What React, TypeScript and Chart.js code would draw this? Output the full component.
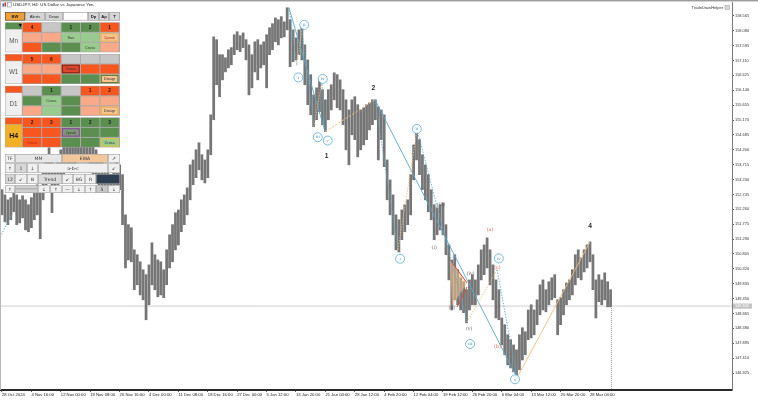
import React, { useEffect, useRef } from 'react';
import { Chart, registerables } from 'chart.js';

Chart.register(...registerables);

// ---------- data ----------
const timeLabels = ['28 Oct 2024', '4 Nov 16:00', '12 Nov 00:00', '19 Nov 08:00', '26 Nov 16:00', '4 Dec 00:00', '11 Dec 08:00', '18 Dec 16:00', '27 Dec 00:00', '5 Jan 12:00', '13 Jan 20:00', '21 Jan 04:00', '28 Jan 12:00', '4 Feb 20:00', '12 Feb 04:00', '19 Feb 12:00', '26 Feb 20:00', '6 Mar 04:00', '13 Mar 12:00', '20 Mar 20:00', '28 Mar 04:00'];
const timeSlots = [0, 10, 20, 30, 40, 50, 60, 70, 80, 90, 100, 110, 120, 130, 140, 150, 160, 170, 180, 190, 200];

const priceTicks = [146.925, 147.41, 147.895, 148.38, 148.865, 149.35, 149.835, 150.32, 150.805, 151.29, 151.775, 152.26, 152.745, 153.23, 153.715, 154.2, 154.685, 155.17, 155.655, 156.14, 156.625, 157.11, 157.595, 158.08, 158.565, 159.05];

const highs = [
  152.90, 152.73, 152.57, 152.64, 152.83, 152.73, 152.57, 152.70, 152.57, 152.41,
  152.64, 152.80, 153.06, 152.90, 153.55, 154.04, 154.27, 153.87, 153.71, 153.87,
  154.20, 154.36, 154.53, 154.69, 154.59, 154.46, 154.69, 154.85, 154.92, 154.79,
  154.53, 154.36, 154.20, 154.04, 153.87, 153.71, 153.55, 153.39, 153.55, 153.87,
  153.71, 153.39, 152.08, 151.76, 151.66, 150.94, 150.78, 150.55, 150.29, 150.13,
  150.45, 151.17, 150.78, 150.61, 150.55, 150.29, 150.94, 151.43, 151.76, 152.15,
  152.24, 152.57, 152.73, 152.96, 153.71, 153.87, 154.20, 154.43, 154.04, 153.87,
  154.20, 155.34, 157.88, 157.79, 157.30, 157.30, 157.20, 157.46, 157.53, 157.95,
  158.05, 157.92, 158.01, 157.79, 157.62, 157.30, 157.72, 157.79, 157.62, 157.72,
  157.95, 158.18, 158.31, 158.50, 158.44, 158.54, 158.37, 158.83, 158.44, 158.11,
  157.85, 158.11, 158.28, 157.62, 157.13, 156.65, 155.99, 156.22, 156.48, 156.16,
  155.83, 156.16, 156.32, 156.71, 156.65, 156.48, 156.16, 155.83, 155.50, 155.83,
  155.93, 155.67, 155.50, 155.57, 155.67, 155.73, 155.83, 155.83, 155.60, 155.50,
  155.34, 153.87, 153.22, 152.73, 152.08, 151.92, 152.24, 152.41, 152.57, 153.39,
  154.36, 154.75, 154.53, 154.04, 153.71, 153.39, 152.90, 152.41, 152.31, 152.41,
  152.47, 151.76, 151.10, 150.61, 150.78, 150.29, 150.03, 149.90, 149.64, 149.96,
  150.13, 149.96, 150.45, 150.94, 151.10, 151.33, 150.94, 150.45, 149.96, 149.64,
  148.72, 148.50, 148.17, 148.01, 147.84, 147.68, 148.17, 148.40, 148.27, 148.98,
  149.15, 148.98, 149.31, 149.80, 149.96, 149.64, 149.90, 150.03, 150.13, 149.31,
  149.38, 149.64, 149.86, 149.96, 150.29, 150.78, 150.94, 150.68, 150.94, 151.10,
  151.20, 150.78, 149.96, 150.13, 149.96, 150.19, 149.90, 149.64
];

const lows = [
  152.08, 151.85, 151.76, 151.92, 152.18, 151.76, 151.82, 151.98, 151.59, 151.53,
  151.66, 151.92, 152.08, 151.30, 152.57, 153.06, 153.29, 152.15, 152.90, 153.06,
  153.22, 153.39, 153.55, 153.71, 153.55, 153.48, 153.87, 153.94, 154.04, 153.81,
  153.55, 153.39, 153.22, 153.06, 152.96, 152.90, 152.90, 152.83, 152.90, 153.06,
  152.90, 151.76, 150.35, 150.61, 150.55, 149.64, 149.80, 149.47, 149.31, 148.66,
  149.15, 149.80, 149.64, 149.41, 149.47, 149.38, 149.80, 150.35, 150.55, 150.94,
  151.10, 151.53, 151.76, 152.08, 152.57, 153.06, 153.29, 153.55, 153.22, 153.12,
  153.29, 154.04, 155.18, 156.32, 155.93, 156.48, 156.74, 156.87, 156.97, 157.30,
  157.46, 157.40, 157.53, 157.13, 155.99, 156.22, 156.74, 156.48, 156.87, 156.97,
  156.22, 157.30, 157.46, 157.72, 157.62, 157.85, 157.88, 158.11, 156.91, 157.07,
  157.13, 157.30, 157.13, 156.32, 155.67, 155.34, 154.95, 155.18, 155.44, 155.02,
  154.79, 155.18, 155.50, 155.83, 155.57, 155.50, 155.02, 154.20, 153.71, 154.69,
  154.53, 153.97, 154.20, 154.36, 154.53, 154.85, 155.02, 155.18, 153.87, 154.53,
  153.65, 152.57, 152.08, 151.43, 150.94, 150.87, 151.27, 151.53, 151.76, 152.08,
  153.22, 153.87, 153.39, 152.90, 152.57, 152.18, 151.92, 151.27, 151.43, 151.59,
  151.43, 150.78, 149.96, 148.98, 149.31, 149.15, 148.98, 148.89, 148.56, 148.98,
  149.15, 149.15, 149.47, 149.96, 150.13, 150.35, 149.80, 149.31, 148.72, 148.66,
  147.84, 147.52, 147.19, 147.09, 146.96, 146.77, 147.03, 147.35, 147.52, 148.01,
  148.07, 148.17, 148.50, 148.82, 148.98, 148.92, 149.15, 149.31, 149.38, 148.17,
  148.50, 148.82, 149.15, 149.31, 149.47, 149.80, 150.03, 149.96, 150.22, 150.35,
  150.55, 149.64, 148.72, 149.25, 149.15, 149.31, 149.08, 149.08
];

const currentPrice = 149.106;
const currentSlot = 207.3;

// wave pivots (slot, price)
const pivotSlots = [97.6, 100.3, 102.0, 106.1, 108.8, 109.9, 126.9, 134.7, 141.2, 158.2, 168.4, 175.2, 200.0];
const pivotPrices = [158.83, 156.94, 158.11, 154.95, 156.42, 154.79, 155.83, 150.94, 154.85, 148.59, 150.29, 146.77, 151.20];
const waveFrom = [0, 6, 0, 1, 2, 3, 4, 5, 6, 7, 8, 9, 10, 11];
const waveTo = [5, 11, 1, 2, 3, 4, 5, 6, 7, 8, 9, 10, 11, 12];
const waveStyle = ['tealSolid', 'tealSolid', 'tealDot', 'orangeDot', 'tealDot', 'orangeDot', 'tealDot', 'orangeDash', 'tealDot', 'orangeDot', 'tealDot', 'orangeDot', 'tealDot', 'orangeSolid'];

// wave labels
const labelTexts = ['ii', 'i', 'iv', 'iii', 'v', 'ii', 'i', 'iv', 'iii', 'v', '(a)', '(c)', '(b)', '(iv)', '(ii)', '(v)', '(i)', '(iii)', '4', '2', '1'];
const labelSlots = [102.8, 100.8, 109.1, 107.4, 110.8, 141.1, 135.4, 169.0, 159.2, 174.5, 166.0, 168.5, 168.5, 159.4, 153.0, 158.9, 147.0, 149.3, 200.0, 126.3, 110.4];
const labelPrices = [158.27, 156.56, 156.51, 154.61, 154.50, 154.88, 150.65, 150.66, 147.87, 146.72, 151.59, 150.34, 147.79, 150.15, 149.04, 148.36, 151.02, 152.41, 151.70, 156.21, 153.98];
const labelKinds = ['c', 'c', 'c', 'c', 'c', 'c', 'c', 'c', 'c', 'c', 'r', 'r', 'r', 'g', 'g', 'g', 'g', 'g', 'n', 'n', 'n'];

// triangle pattern
const wedgeSlots = [152.4, 158.2, 153.1];
const wedgePrices = [150.61, 149.86, 149.11];
const wedgeLowerSlots = [154.8, 158.2];
const wedgeLowerPrices = [149.08, 149.73];

// left edge dotted line
const edgeSlots = [-0.68, 3.7];
const edgePrices = [151.36, 152.15];

// ---------- panel content ----------
const panelTitle = 'USDJPY, H4: US Dollar vs Japanese Yen';
const topButtons = ['BW', 'Alerts', 'Draw', '', 'Dp', 'Ap', 'T'];
const sectionNames = ['Mn', 'W1', 'D1', 'H4'];
const sectionTopFill = ['G', 'O', 'O', 'O'];
// cell: [fill, text, border, textColor]
const sectionCells: string[][][] = [
  [['O', '4'], ['Y', ''], ['G', '1'], ['G', '2'], ['O', '1'],
   ['S', ''], ['S', ''], ['L', 'Sav'], ['L', ''], ['P', '2peak', '#eab060', '#a8321e'],
   ['O', ''], ['G', ''], ['G', ''], ['L', 'Cross'], ['S', '']],
  [['O', '5'], ['O', '6'], ['Y', ''], ['Y', ''], ['Y', ''],
   ['S', ''], ['S', ''], ['R', 'Cross', '#7a2a1a'], ['O', ''], ['O', ''],
   ['O', ''], ['O', ''], ['G', ''], ['G', ''], ['P', 'Disagr', '#3f6f35']],
  [['Y', ''], ['G', '1'], ['Y', ''], ['O', '1'], ['O', '2'],
   ['G', ''], ['L', 'Cross'], ['G', ''], ['S', ''], ['S', ''],
   ['S', ''], ['L', ''], ['G', ''], ['S', ''], ['P', 'Disagr', '#eea54a']],
  [['O', '2'], ['O', '3'], ['G', '1'], ['G', '2'], ['G', '3'],
   ['O', ''], ['O', ''], ['V', '2peak', '#8b3db0'], ['G', ''], ['G', ''],
   ['O', 'Cross', '', '#b81a0a'], ['O', ''], ['G', ''], ['G', ''], ['L', 'Cross', '#e6c23a']],
];
const toolRows: any[][] = [
  [['TF', 5, 15, '#f0f0f0'], ['MM', 15, 62, '#e6e6e6'], ['EWA', 62, 108, '#f2c79b'], ['\u2197', 108, 120, '#f0f0f0']],
  [['\u2191', 5, 15, '#f0f0f0'], ['1', 15, 27, '#d8d8d8'], ['\u2193', 27, 38, '#f0f0f0'], ['a-b-c', 38, 108, '#f0f0f0'], ['\u2199', 108, 120, '#f0f0f0']],
  [['12', 5, 15, '#d8d8d8'], ['\u2199', 15, 27, '#f0f0f0'], ['B', 27, 38, '#f0f0f0'], ['Trend', 38, 62, '#dcdcdc'], ['\u2199', 62, 73, '#f0f0f0'], ['BG', 73, 85, '#f0f0f0'], ['R', 85, 96, '#f0f0f0'], ['', 96, 120, '#2d3e52']],
  [['\u2191', 5, 15, '#f0f0f0'], ['', 15, 38, '#d0d0d0'], ['\u2193', 38, 50, '#f0f0f0'], ['\u2191', 50, 62, '#f0f0f0'], ['\u2014', 62, 73, '#f0f0f0'], ['\u2193', 73, 85, '#f0f0f0'], ['\u2191', 85, 96, '#f0f0f0'], ['5', 96, 108, '#c8c8c8'], ['\u2193', 108, 120, '#f0f0f0']],
];

const FILL: any = { O: '#f7561e', S: '#f9a987', G: '#5b8f4f', L: '#9acb8e', Y: '#c6c6c6', P: '#f6c48c', R: '#e0452c', V: '#7d9a72' };
const SANS = '"Liberation Sans", Arial, sans-serif';

function drawPanel(ctx: CanvasRenderingContext2D) {
  ctx.save();
  ctx.textAlign = 'center';
  ctx.textBaseline = 'middle';
  ctx.fillStyle = '#e8e8e8'; ctx.fillRect(2, 2, 4.5, 5);
  ctx.fillStyle = '#3a6fc0'; ctx.fillRect(2.5, 3.5, 1.5, 3); ctx.fillStyle = '#d03a2a'; ctx.fillRect(4.5, 2.5, 1.5, 4);
  ctx.strokeStyle = '#777'; ctx.lineWidth = 0.5; ctx.strokeRect(7.5, 2.5, 4, 4.5);
  ctx.fillStyle = '#222'; ctx.font = '4.4px ' + SANS; ctx.textAlign = 'left';
  ctx.fillText(panelTitle, 13, 5.2);
  ctx.textAlign = 'center';

  const bx = [5, 25, 45, 63, 88, 99, 109, 120];
  topButtons.forEach((t, i) => {
    const x0 = bx[i], x1 = bx[i + 1];
    ctx.fillStyle = i === 0 ? '#eea13a' : (i === 3 ? '#ffffff' : '#d6d6d6');
    ctx.fillRect(x0, 12, x1 - x0, 8.5);
    ctx.strokeStyle = i === 0 ? '#444' : '#9a9a9a'; ctx.lineWidth = 0.6;
    ctx.strokeRect(x0 + 0.3, 12.3, x1 - x0 - 0.6, 7.9);
    ctx.fillStyle = '#222';
    ctx.font = (i === 0 || i >= 4 ? 'bold ' : '') + '4.2px ' + SANS;
    ctx.fillText(t, (x0 + x1) / 2, 16.4);
  });

  const colX = [22.3, 41.7, 61.1, 80.5, 99.9, 119.3];
  const tops = [22.3, 54, 85.8, 117.4];
  sectionNames.forEach((name, si) => {
    const t = tops[si];
    ctx.fillStyle = '#a9a9a9';
    ctx.fillRect(5, t, 115, 30);
    ctx.fillStyle = FILL[sectionTopFill[si]];
    ctx.fillRect(5.5, t + 0.5, 16.3, 6.2);
    if (si === 0) {
      ctx.fillStyle = '#111';
      ctx.beginPath(); ctx.moveTo(18.5, t + 1.6); ctx.lineTo(22, t + 1.6); ctx.lineTo(20.25, t + 5); ctx.closePath(); ctx.fill();
    }
    ctx.fillStyle = si === 3 ? '#f1b126' : '#efefef';
    ctx.fillRect(5.5, t + 7.2, 16.3, 22.3);
    ctx.fillStyle = si === 3 ? '#111' : '#555';
    ctx.font = (si === 3 ? 'bold 7px ' : '6.3px ') + SANS;
    ctx.fillText(name, 13.6, t + 18.6);
    const cells = sectionCells[si];
    for (let r = 0; r < 3; r++) {
      for (let c = 0; c < 5; c++) {
        const cell = cells[r * 5 + c];
        const x0 = colX[c] + 0.5, y0 = t + r * 10 + 0.5, w = colX[c + 1] - colX[c] - 1, h = 9;
        ctx.fillStyle = FILL[cell[0]];
        ctx.fillRect(x0, y0, w, h);
        if (cell[2]) {
          ctx.strokeStyle = cell[2]; ctx.lineWidth = 1;
          ctx.strokeRect(x0 + 0.8, y0 + 0.8, w - 1.6, h - 1.6);
        }
        if (cell[1]) {
          const isNum = /^[0-9]$/.test(cell[1]);
          ctx.fillStyle = cell[3] || (isNum ? '#1a1a1a' : '#333');
          ctx.font = (isNum ? 'bold 4.8px ' : '3.9px ') + SANS;
          ctx.fillText(cell[1], x0 + w / 2, y0 + h / 2 + 0.3);
        }
      }
    }
  });

  const rowTops = [154, 163.4, 174.2, 185.4];
  const rowH = [8.6, 9.6, 9.8, 7.6];
  toolRows.forEach((row, ri) => {
    row.forEach((b) => {
      const [t, x0, x1, fill] = b;
      ctx.fillStyle = fill;
      ctx.fillRect(x0, rowTops[ri], x1 - x0, rowH[ri]);
      ctx.strokeStyle = '#a4a4a4'; ctx.lineWidth = 0.6;
      ctx.strokeRect(x0 + 0.3, rowTops[ri] + 0.3, x1 - x0 - 0.6, rowH[ri] - 0.6);
      if (ri === 3 && t === '') {
        ctx.strokeStyle = '#888'; ctx.lineWidth = 0.6;
        ctx.beginPath(); ctx.moveTo(x0 + 1, rowTops[ri] + 3.5); ctx.lineTo(x1 - 1, rowTops[ri] + 3.5); ctx.stroke();
      }
      if (t) {
        ctx.fillStyle = '#333';
        ctx.font = '4.6px "DejaVu Sans", ' + SANS;
        ctx.fillText(t, (x0 + x1) / 2, rowTops[ri] + rowH[ri] / 2 + 0.3);
      }
    });
  });
  ctx.restore();
}

function lineStyle(ctx: CanvasRenderingContext2D, style: string) {
  if (style.startsWith('teal')) ctx.strokeStyle = '#56a9c9'; else ctx.strokeStyle = '#efbd7c';
  ctx.lineWidth = 0.9;
  if (style.endsWith('Dot')) ctx.setLineDash([1.4, 1.4]);
  else if (style.endsWith('Dash')) ctx.setLineDash([2.5, 1.5]);
  else ctx.setLineDash([]);
}

const decorPlugin = {
  id: 'mtDecor',
  beforeDatasetsDraw(chart: any) {
    const { ctx, chartArea: a, scales } = chart;
    const y = scales.y;
    ctx.save();
    const py = y.getPixelForValue(currentPrice);
    ctx.strokeStyle = '#cfcfcf'; ctx.lineWidth = 1;
    ctx.beginPath(); ctx.moveTo(a.left, py); ctx.lineTo(a.right, py); ctx.stroke();
    ctx.restore();
  },
  afterDatasetsDraw(chart: any) {
    const { ctx, chartArea: a, scales } = chart;
    const x = scales.x, y = scales.y;
    const px = (s: number) => x.getPixelForValue(s);
    const py = (p: number) => y.getPixelForValue(p);
    ctx.save();
    ctx.beginPath(); ctx.rect(a.left, a.top, a.right - a.left, a.bottom - a.top); ctx.clip();

    ctx.fillStyle = 'rgba(249,196,140,0.55)';
    ctx.beginPath();
    wedgeSlots.forEach((s, i) => { const X = px(s), Y = py(wedgePrices[i]); if (i === 0) ctx.moveTo(X, Y); else ctx.lineTo(X, Y); });
    ctx.closePath(); ctx.fill();
    ctx.strokeStyle = '#d8463a'; ctx.lineWidth = 1;
    ctx.beginPath(); ctx.moveTo(px(wedgeSlots[0]), py(wedgePrices[0])); ctx.lineTo(px(wedgeSlots[1]), py(wedgePrices[1])); ctx.stroke();
    ctx.beginPath(); ctx.moveTo(px(wedgeLowerSlots[0]), py(wedgeLowerPrices[0])); ctx.lineTo(px(wedgeLowerSlots[1]), py(wedgeLowerPrices[1])); ctx.stroke();

    waveFrom.forEach((f, i) => {
      const t = waveTo[i];
      lineStyle(ctx, waveStyle[i]);
      ctx.beginPath();
      ctx.moveTo(px(pivotSlots[f]), py(pivotPrices[f]));
      ctx.lineTo(px(pivotSlots[t]), py(pivotPrices[t]));
      ctx.stroke();
    });
    lineStyle(ctx, 'tealDot');
    ctx.beginPath(); ctx.moveTo(px(edgeSlots[0]), py(edgePrices[0])); ctx.lineTo(px(edgeSlots[1]), py(edgePrices[1])); ctx.stroke();
    ctx.setLineDash([]);

    ctx.strokeStyle = '#9a9a9a'; ctx.lineWidth = 1; ctx.setLineDash([1, 1]);
    const vx = Math.round(px(currentSlot)) + 0.5;
    ctx.beginPath(); ctx.moveTo(vx, py(currentPrice)); ctx.lineTo(vx, a.bottom); ctx.stroke();
    ctx.setLineDash([]);

    ctx.textAlign = 'center'; ctx.textBaseline = 'middle';
    labelTexts.forEach((t, i) => {
      const X = px(labelSlots[i]), Y = py(labelPrices[i]);
      const k = labelKinds[i];
      if (k === 'c') {
        ctx.beginPath(); ctx.arc(X, Y, 4.5, 0, Math.PI * 2);
        ctx.fillStyle = 'rgba(255,255,255,0.92)'; ctx.fill();
        ctx.strokeStyle = '#59acd0'; ctx.lineWidth = 0.8; ctx.stroke();
        ctx.fillStyle = '#3f95bf'; ctx.font = '4px "DejaVu Serif", serif';
        ctx.fillText(t, X, Y + 0.2);
      } else if (k === 'g') {
        ctx.fillStyle = '#666'; ctx.font = '4.8px "DejaVu Serif", serif';
        ctx.fillText(t, X, Y);
      } else if (k === 'r') {
        ctx.fillStyle = '#df6a5c'; ctx.font = '4.8px "DejaVu Serif", serif';
        ctx.fillText(t, X, Y);
      } else {
        ctx.fillStyle = '#2a2a2a'; ctx.font = 'bold 6.6px ' + SANS;
        ctx.fillText(t, X, Y);
      }
    });
    ctx.restore();
  },
  afterDraw(chart: any) {
    const { ctx, chartArea: a, scales } = chart;
    const y = scales.y;
    ctx.save();
    ctx.fillStyle = '#9d9d9d'; ctx.fillRect(0, 0, 758, 1);
    ctx.fillStyle = '#d4d4d4'; ctx.fillRect(0, 1, 758, 1);
    ctx.fillStyle = '#b8b8b8'; ctx.fillRect(0, 0, 1, a.bottom);
    const py = y.getPixelForValue(currentPrice);
    ctx.fillStyle = '#c4c4c4';
    ctx.fillRect(a.right + 1, py - 2.6, 19, 5.2);
    ctx.fillStyle = '#ffffff'; ctx.font = '3.8px ' + SANS; ctx.textAlign = 'left'; ctx.textBaseline = 'middle';
    ctx.fillText(currentPrice.toFixed(3), a.right + 3, py + 0.2);
    ctx.fillStyle = '#333'; ctx.textAlign = 'right'; ctx.font = '4px ' + SANS;
    ctx.fillText('TradeDrawHelper', 723, 7.6);
    ctx.fillStyle = '#d8d8d8'; ctx.fillRect(725, 5.5, 4.5, 4);
    ctx.strokeStyle = '#999'; ctx.lineWidth = 0.5; ctx.strokeRect(725, 5.5, 4.5, 4);
    ctx.restore();
    drawPanel(ctx);
  },
};

export default function App() {
  const ref = useRef<HTMLCanvasElement | null>(null);
  useEffect(() => {
    document.body.style.margin = '0';
    const canvas = ref.current;
    if (!canvas) return;
    const chart = new Chart(canvas, {
      type: 'bar',
      data: {
        datasets: [{
          data: highs.map((h, i) => ({ x: i, y: [lows[i], h] })) as any,
          backgroundColor: '#767676',
          borderWidth: 0,
          barThickness: 2.1,
          grouped: false,
        } as any],
      },
      options: {
        responsive: false,
        devicePixelRatio: 1,
        animation: false,
        events: [],
        layout: { padding: { top: 1, left: 0, right: 0, bottom: 0 } },
        plugins: { legend: { display: false }, tooltip: { enabled: false } },
        scales: {
          x: {
            type: 'linear',
            offset: false,
            min: -0.68,
            max: 248.3,
            afterBuildTicks: (s: any) => { s.ticks = timeSlots.map((v) => ({ value: v })); },
            afterFit: (s: any) => { s.height = 11; s.paddingLeft = 0; s.paddingRight = 0; },
            ticks: {
              autoSkip: false, maxRotation: 0, minRotation: 0, align: 'start', padding: 0.5,
              color: '#222', font: { size: 4.2, family: SANS },
              callback: (v: any) => { const i = timeSlots.indexOf(Number(v)); return i >= 0 ? timeLabels[i] : ''; },
            },
            grid: { drawOnChartArea: false, drawTicks: true, tickLength: 2, color: '#666', offset: false },
            border: { display: true, color: '#2a2a2a', width: 2 },
          },
          y: {
            type: 'linear',
            position: 'right',
            min: 146.371,
            max: 159.05,
            afterBuildTicks: (s: any) => { s.ticks = priceTicks.map((v) => ({ value: v })); },
            afterFit: (s: any) => { s.width = 26; s.paddingTop = 0; s.paddingBottom = 0; },
            ticks: {
              autoSkip: false, padding: 1, color: '#333', font: { size: 3.9, family: SANS },
              callback: (v: any) => Number(v).toFixed(3),
            },
            grid: { drawOnChartArea: false, drawTicks: true, tickLength: 2, color: '#555' },
            border: { display: true, color: '#7a7a7a', width: 1 },
          },
        },
      } as any,
      plugins: [decorPlugin as any],
    });
    return () => chart.destroy();
  }, []);
  return (
    <div style={{ position: 'fixed', left: 0, top: 0, width: 758, height: 401, background: '#fff' }}>
      <canvas ref={ref} width={758} height={401} style={{ display: 'block', width: 758, height: 401 }} />
    </div>
  );
}
